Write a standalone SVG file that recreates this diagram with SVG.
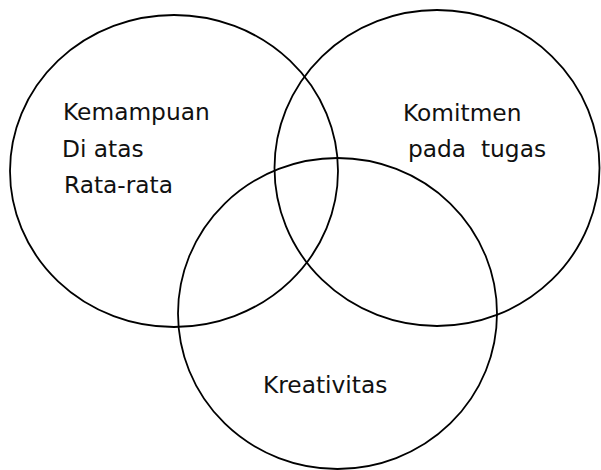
<svg xmlns="http://www.w3.org/2000/svg" width="601" height="470" viewBox="0 0 601 470">
<style>
.c{fill:none;stroke:#000;stroke-width:1.8}
.t{font-family:"DejaVu Sans",Verdana,sans-serif;font-size:23.3px;fill:#111}
</style>
<rect width="601" height="470" fill="#fff"/>
<g id="kemampuan">
<ellipse class="c" cx="174" cy="171" rx="164" ry="156"/>
<text class="t" x="63" y="120">Kemampuan</text>
<text class="t" x="62" y="157">Di atas</text>
<text class="t" x="64" y="193">Rata-rata</text>
</g>
<g id="komitmen">
<ellipse class="c" cx="437" cy="168" rx="162.5" ry="158"/>
<text class="t" x="403" y="121">Komitmen</text>
<text class="t" x="408" y="157" xml:space="preserve">pada  tugas</text>
</g>
<g id="kreativitas">
<ellipse class="c" cx="337.5" cy="313.5" rx="159.5" ry="155.5"/>
<text class="t" x="263" y="393">Kreativitas</text>
</g>
<g id="connectors"/>
</svg>
